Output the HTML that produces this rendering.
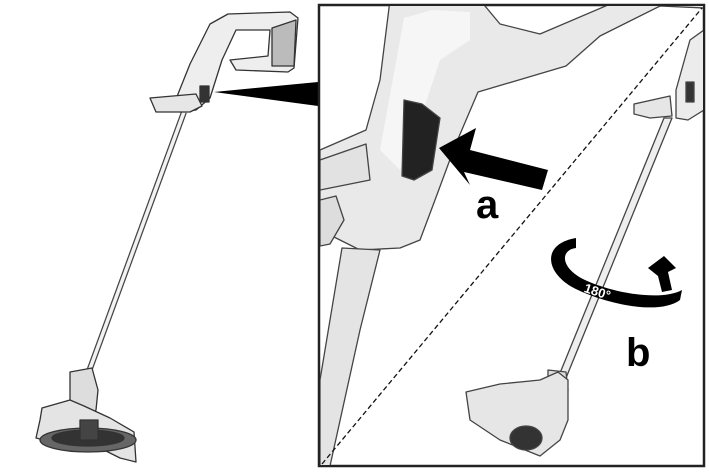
<!DOCTYPE html>
<html><head><style>html,body{margin:0;padding:0;background:#fff;width:709px;height:473px;overflow:hidden}</style></head>
<body>
<svg width="709" height="473" viewBox="0 0 709 473" xmlns="http://www.w3.org/2000/svg">
<g stroke="#333" stroke-width="1.3" fill="#eee" stroke-linejoin="round">
<line x1="184" y1="112" x2="84" y2="385" stroke="#444" stroke-width="6"/>
<line x1="184" y1="112" x2="84" y2="385" stroke="#f2f2f2" stroke-width="3.5"/>
<path d="M228,14 L290,12 L298,18 L294,68 L288,72 L236,70 L230,60 L268,56 L270,30 L236,30 L222,60 L210,98 L196,110 L180,112 L174,104 L190,64 L210,24 Z"/>
<path d="M272,28 L296,20 L294,66 L272,66 Z" fill="#bbb"/>
<path d="M150,98 L196,94 L202,106 L190,112 L156,112 Z" fill="#e6e6e6"/>
<rect x="200" y="86" width="9" height="16" fill="#333"/>
<path d="M70,372 L92,368 L98,390 L96,410 L82,428 L70,420 Z" fill="#ddd"/>
<path d="M42,408 L70,400 L84,406 L110,418 L134,432 L136,462 L120,458 L96,446 L60,444 L36,438 L40,420 Z" fill="#e4e4e4"/>
<ellipse cx="88" cy="440" rx="48" ry="12" fill="#666"/>
<ellipse cx="88" cy="438" rx="36" ry="8" fill="#333"/>
<rect x="80" y="420" width="18" height="20" fill="#444"/>
</g>
<polygon points="214,92 318,82 318,106" fill="#000"/>
<rect x="319" y="5" width="385" height="461" fill="#fff" stroke="#222" stroke-width="2.5"/>
<clipPath id="c"><rect x="320" y="6" width="383" height="459"/></clipPath>
<g clip-path="url(#c)" stroke="#444" stroke-width="1.3" stroke-linejoin="round">
<path d="M390,0 L480,0 L500,24 L540,34 L608,5 L704,5 L704,8 L660,6 L600,36 L566,66 L478,92 L455,146 L435,200 L420,240 L400,248 L360,250 L340,240 L320,230 L320,150 L366,130 L380,80 Z" fill="#e9e9e9"/>
<path d="M404,18 L432,10 L470,12 L470,40 L440,60 L420,120 L400,170 L380,150 Z" fill="#f6f6f6" stroke="none"/>
<path d="M320,160 L366,144 L370,180 L330,188 L320,190 Z" fill="#e2e2e2"/>
<path d="M320,200 L336,196 L344,220 L330,244 L320,246 Z" fill="#ddd"/>
<path d="M404,100 L422,104 L440,118 L432,170 L414,180 L402,176 Z" fill="#222"/>
<path d="M342,248 L380,250 L360,330 L330,466 L320,466 L320,380 Z" fill="#e4e4e4"/>
<path d="M664,118 L672,118 L566,378 L558,378 Z" fill="#eee"/>
<path d="M634,104 L670,96 L672,116 L650,118 L634,114 Z" fill="#e6e6e6"/>
<path d="M676,90 L690,40 L704,30 L704,110 L688,120 L676,118 Z" fill="#ececec"/>
<rect x="686" y="82" width="8" height="20" fill="#333"/>
<path d="M548,370 L566,372 L568,390 L560,410 L548,412 Z" fill="#ddd"/>
<path d="M466,392 L500,384 L540,380 L558,372 L568,380 L568,420 L560,440 L540,456 L500,440 L470,420 Z" fill="#e6e6e6"/>
<ellipse cx="526" cy="438" rx="16" ry="12" fill="#333"/>
</g>
<line x1="322" y1="464" x2="702" y2="8" stroke="#111" stroke-width="1.3" stroke-dasharray="5,3"/>
<polygon points="439,148 476,128 470,150 548,170 542,190 464,172 470,185" fill="#000"/>
<text x="476" y="218" font-family="Liberation Sans, sans-serif" font-weight="bold" font-size="40" fill="#000">a</text>
<path d="M576,238 C540,244 545,275 578,290 C610,305 660,315 680,300 L682,290 C660,302 610,292 585,280 C560,268 560,250 576,248 Z" fill="#000"/>
<polygon points="648,268 664,256 676,268 668,272 672,290 662,292 658,276" fill="#000"/>
<text x="584" y="297" font-family="Liberation Sans, sans-serif" font-weight="bold" font-size="13" fill="#fff" transform="rotate(18 600 292)">180°</text>
<text x="626" y="366" font-family="Liberation Sans, sans-serif" font-weight="bold" font-size="40" fill="#000">b</text>
</svg>
</body></html>
